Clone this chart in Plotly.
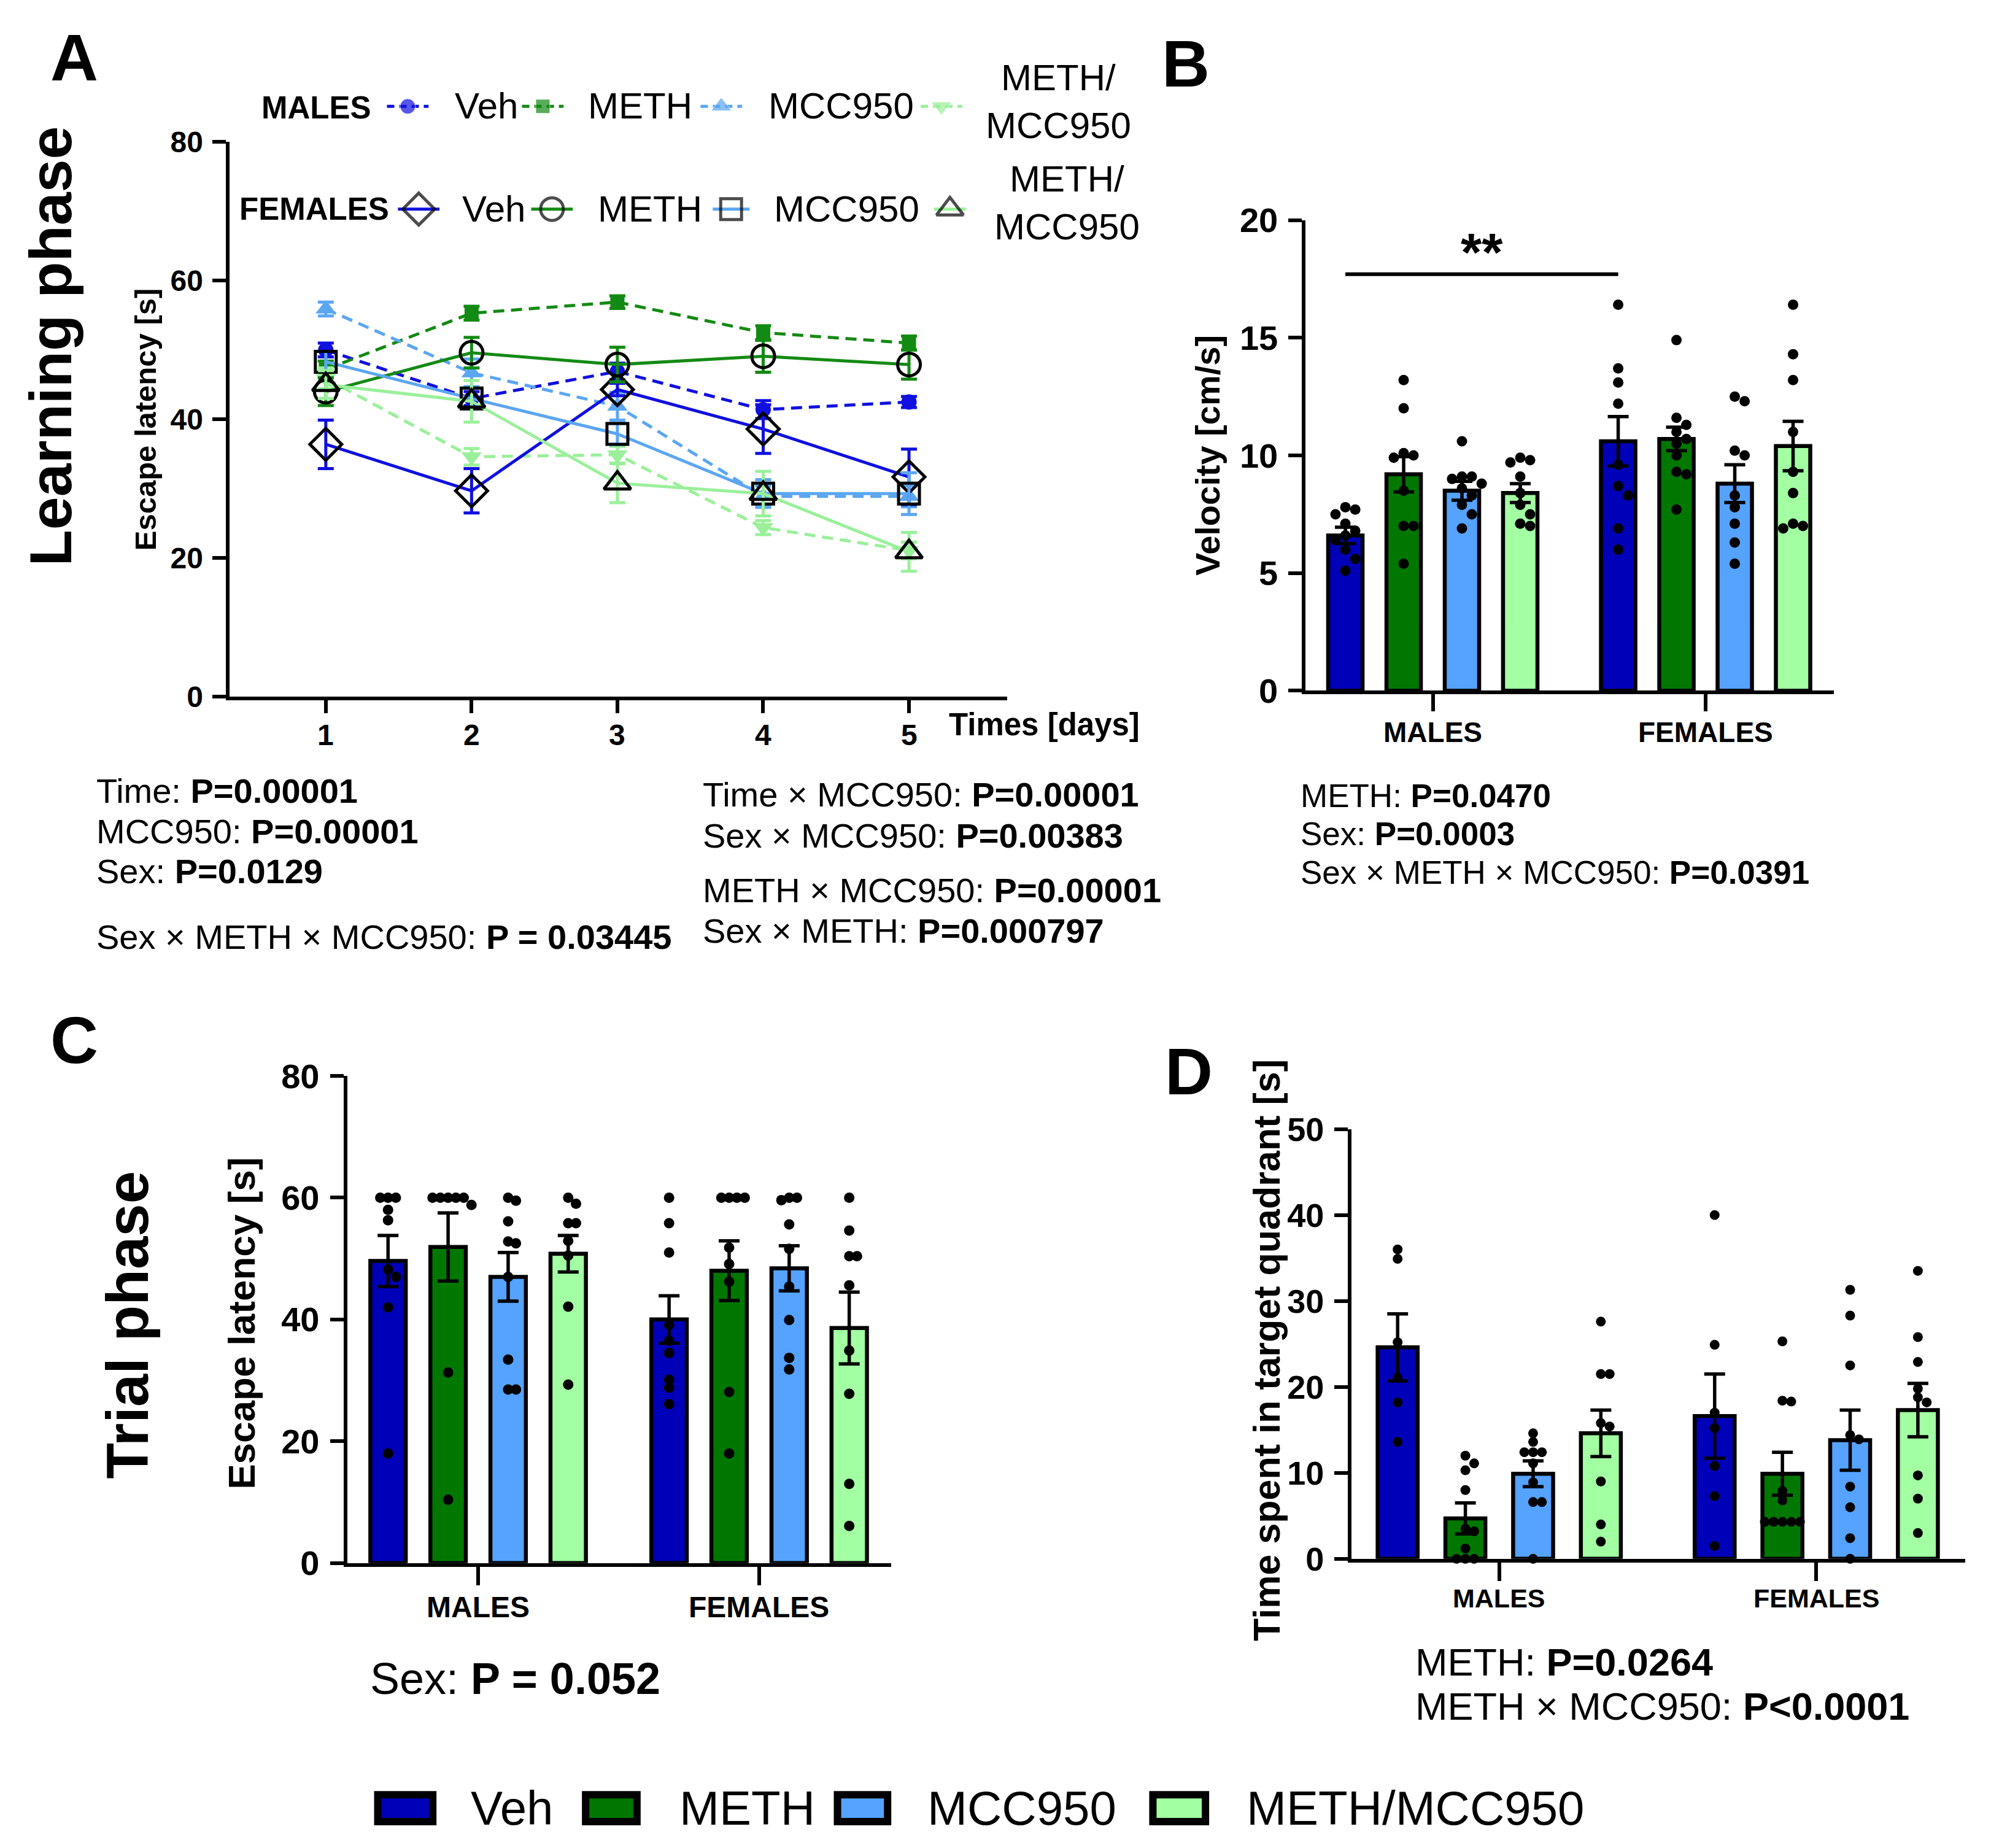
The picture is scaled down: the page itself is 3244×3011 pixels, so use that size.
import plotly.graph_objects as go

W, H = 3244, 3011
FONT = "Liberation Sans, Arial, sans-serif"

# ---- shared categories / colours
treatments = ["Veh", "METH", "MCC950", "METH/MCC950"]
sexes = ["MALES", "FEMALES"]
bar_colors = ["#0000b8", "#007800", "#55a2ff", "#a2ffa2"]
line_colors = ["#1010e0", "#138a13", "#5ba6f2", "#9af09a"]

# ---- panel A : learning phase (mean, SEM per day)
days = [1, 2, 3, 4, 5]
a_male_mean = [
    [50.0, 43.0, 46.9, 41.4, 42.5],
    [47.2, 55.3, 56.9, 52.5, 51.0],
    [55.9, 46.7, 41.9, 28.9, 28.9],
    [45.9, 34.6, 34.9, 24.4, 21.1],
]
a_male_sem = [
    [1.0, 1.0, 1.2, 1.3, 0.8],
    [1.2, 1.0, 0.9, 1.0, 1.0],
    [1.0, 2.0, 2.0, 1.5, 1.5],
    [1.5, 1.2, 1.2, 1.0, 1.2],
]
a_female_mean = [
    [36.4, 29.7, 44.3, 38.6, 31.7],
    [44.0, 49.6, 47.9, 49.1, 47.9],
    [48.3, 43.0, 37.9, 29.3, 29.3],
    [45.0, 42.6, 30.8, 29.3, 20.9],
]
a_female_sem = [
    [3.5, 3.2, 0.9, 3.5, 4.0],
    [2.0, 2.2, 2.5, 2.3, 2.1],
    [1.5, 1.5, 1.5, 2.0, 3.0],
    [2.0, 3.0, 2.8, 3.2, 2.8],
]

# ---- panel B : velocity
b_mean = [6.6, 9.2, 8.5, 8.4, 10.6, 10.7, 8.8, 10.4]
b_sem = [0.35, 0.75, 0.4, 0.4, 1.05, 0.5, 0.8, 1.05]
b_points = [
    [7.8, 7.7, 7.5, 7.1, 6.8, 6.6, 6.4, 6.0, 5.6, 5.1],
    [13.2, 12.0, 10.1, 10.0, 9.9, 8.5, 7.0, 7.0, 5.4],
    [10.6, 9.1, 9.1, 9.0, 8.8, 8.6, 8.3, 7.9, 7.5, 6.9],
    [9.9, 9.8, 9.7, 9.1, 8.4, 7.9, 7.5, 7.1, 7.0],
    [16.4, 13.7, 13.1, 12.2, 9.6, 8.7, 8.3, 6.9, 6.0],
    [14.9, 11.6, 11.3, 11.0, 10.7, 10.5, 10.0, 9.3, 9.2, 7.7],
    [12.5, 12.3, 10.2, 10.0, 8.3, 7.8, 7.1, 6.3, 5.4],
    [16.4, 14.3, 13.2, 11.0, 9.3, 8.4, 7.1, 7.0, 6.9],
]

# ---- panel C : trial phase escape latency
c_mean = [49.6, 51.9, 47.0, 50.8, 40.0, 48.0, 48.4, 38.6]
c_sem = [4.2, 5.6, 4.0, 3.0, 3.9, 4.9, 3.7, 5.9]
c_points = [
    [60, 60, 60, 58.0, 56.3, 48.2, 47.0, 42.0, 18.0],
    [60, 60, 60, 60, 60, 58.8, 31.3, 10.4],
    [60, 59.5, 56.1, 52.8, 52.5, 47.0, 33.4, 28.5, 28.5],
    [60, 59.0, 55.8, 55.8, 52.9, 50.5, 42.1, 29.3],
    [60, 55.8, 51.0, 39.1, 36.5, 34.5, 30.1, 28.8, 26.1],
    [60, 60, 60, 60, 51.8, 49.1, 46.2, 28.1, 18.0],
    [60, 60, 59.6, 55.6, 51.6, 45.4, 39.9, 33.7, 31.8],
    [60, 54.6, 50.4, 50.4, 45.6, 34.9, 27.8, 13.0, 6.1],
]

# ---- panel D : time in target quadrant
d_mean = [24.6, 4.7, 9.9, 14.6, 16.6, 9.9, 13.8, 17.3]
d_sem = [3.9, 1.8, 1.5, 2.7, 4.9, 2.5, 3.5, 3.1]
d_points = [
    [36.0, 34.9, 25.2, 21.1, 18.2, 13.6],
    [12.0, 11.1, 10.3, 8.0, 3.5, 3.2, 1.2, 0, 0, 0],
    [14.6, 13.6, 12.4, 12.4, 12.4, 11.1, 8.9, 6.6, 6.6, 0],
    [27.6, 21.5, 21.5, 15.8, 15.4, 9.0, 4.0, 2.0],
    [40.0, 24.9, 17.0, 15.2, 10.8, 7.3, 1.5],
    [25.3, 18.4, 18.3, 7.9, 6.8, 4.3, 4.3, 4.3, 4.3, 4.3],
    [31.3, 28.3, 22.5, 14.4, 13.9, 8.4, 6.0, 2.4, 0],
    [33.5, 25.8, 22.9, 19.8, 18.8, 18.2, 9.7, 7.0, 3.0],
]

stats_a_left = ["Time: <b>P=0.00001</b>", "MCC950: <b>P=0.00001</b>", "Sex: <b>P=0.0129</b>",
                "Sex × METH × MCC950: <b>P = 0.03445</b>"]
stats_a_right = ["Time × MCC950: <b>P=0.00001</b>", "Sex × MCC950: <b>P=0.00383</b>",
                 "METH × MCC950: <b>P=0.00001</b>", "Sex × METH: <b>P=0.000797</b>"]
stats_b = ["METH: <b>P=0.0470</b>", "Sex: <b>P=0.0003</b>", "Sex × METH × MCC950: <b>P=0.0391</b>"]
stats_c = ["Sex: <b>P = 0.052</b>"]
stats_d = ["METH: <b>P=0.0264</b>", "METH × MCC950: <b>P<0.0001</b>"]

# page offset (body margin) compensation: pixel -> paper
SC, OFF = 0.996, 8


def fx(p):
    return (p * SC - OFF) / W


def fy(p):
    return 1 - (p * SC - OFF) / H


# bar layout: 4 bars per sex, gap between the sexes
FEMALE_OFFSET = 4.68
BAR_RANGE = [-0.68, 3 + FEMALE_OFFSET + 0.70]
positions = [i + g * FEMALE_OFFSET for g in range(2) for i in range(4)]
group_centers = [1.5 + g * FEMALE_OFFSET for g in range(2)]


def swarm(values, center, x_px, y_px, diam, step=0.95):
    # simple beeswarm so overlapping dots spread sideways
    placed, xs = [], []
    for v in values:
        k = 0
        while True:
            off = ((k + 1) // 2) * (1 if k % 2 else -1) * diam * step
            yy = v * y_px
            if all((off - px) ** 2 + (yy - py) ** 2 >= (diam * step * 0.98) ** 2 for px, py in placed):
                break
            k += 1
        placed.append((off, yy))
        xs.append(center + off / x_px)
    return xs


fig = go.Figure()

# ---------------- panel A
sym_m = ["circle", "square", "triangle-up", "triangle-down"]
size_m = [25, 23, 29, 29]
sym_f = ["diamond-open", "circle-open", "square-open", "triangle-up-open"]
size_f = [40, 37, 34, 38]
for t in range(4):
    fig.add_trace(go.Scatter(
        x=days, y=a_male_mean[t], mode="lines+markers",
        line=dict(color=line_colors[t], width=5, dash="18px,11px"),
        marker=dict(symbol=sym_m[t], size=size_m[t], color=line_colors[t]),
        error_y=dict(type="data", array=a_male_sem[t], color=line_colors[t], thickness=5, width=13),
        xaxis="x", yaxis="y", showlegend=False, hoverinfo="skip"))
for t in range(4):
    fig.add_trace(go.Scatter(
        x=days, y=a_female_mean[t], mode="lines+markers",
        line=dict(color=line_colors[t], width=5),
        marker=dict(symbol=sym_f[t], size=size_f[t], color="black", line=dict(width=5, color="black")),
        error_y=dict(type="data", array=a_female_sem[t], color=line_colors[t], thickness=5, width=13),
        xaxis="x", yaxis="y", showlegend=False, hoverinfo="skip"))


# ---------------- bar panels B, C, D
def bar_panel(means, sems, points, xa, ya, x_px, y_px, diam, step):
    fig.add_trace(go.Bar(
        x=positions, y=means, width=0.59,
        marker=dict(color=bar_colors * 2, line=dict(color="black", width=6.5)),
        error_y=dict(type="data", array=sems, color="black", thickness=5.5, width=17),
        xaxis=xa, yaxis=ya, showlegend=False, hoverinfo="skip"))
    xs, ys = [], []
    for k, vals in enumerate(points):
        xs += swarm(vals, positions[k], x_px, y_px, diam, step)
        ys += vals
    fig.add_trace(go.Scatter(
        x=xs, y=ys, mode="markers", marker=dict(color="black", size=diam),
        xaxis=xa, yaxis=ya, showlegend=False, hoverinfo="skip", cliponaxis=False))


bar_panel(b_mean, b_sem, b_points, "x2", "y2", 95.5, 38.5, 17, 0.95)
bar_panel(c_mean, c_sem, c_points, "x3", "y3", 98.2, 10.0, 17, 0.75)
bar_panel(d_mean, d_sem, d_points, "x4", "y4", 111.0, 14.2, 16, 0.9)

# ---------------- legend samples of panel A (drawn on a pixel overlay axis)
leg_m = [(667, 34), (888, 34), (1180, 34), (1540, 34)]
leg_f = [(685, 34), (903, 34), (1196, 30), (1554, 26)]
for t in range(4):
    xc, half = leg_m[t]
    fig.add_trace(go.Scatter(
        x=[xc - half, xc, xc + half], y=[174] * 3, mode="lines+markers",
        line=dict(color=line_colors[t], width=5, dash="12px,8px"),
        marker=dict(symbol=sym_m[t], size=[0, size_m[t], 0], color=line_colors[t]),
        xaxis="x5", yaxis="y5", showlegend=False, hoverinfo="skip"))
    xc, half = leg_f[t]
    fig.add_trace(go.Scatter(
        x=[xc - half, xc, xc + half], y=[342] * 3, mode="lines+markers",
        line=dict(color=line_colors[t], width=5),
        marker=dict(symbol=sym_f[t], size=[0, size_f[t], 0], color="black", line=dict(width=5, color="black")),
        xaxis="x5", yaxis="y5", showlegend=False, hoverinfo="skip"))

# ---------------- axes
axis_common = dict(showline=True, linewidth=6, linecolor="black", ticks="outside", tickwidth=6,
                   tickcolor="black", showgrid=False, zeroline=False, mirror=False, automargin=False)
ytick_font = lambda s: dict(size=s, weight="bold", family=FONT)

fig.update_layout(
    width=W, height=H, margin=dict(l=0, r=0, t=0, b=0, pad=0, autoexpand=False),
    paper_bgcolor="white", plot_bgcolor="rgba(0,0,0,0)",
    font=dict(family=FONT, color="black"),
    xaxis=dict(domain=[fx(376), fx(1648)], range=[0.342, 5.675], tickvals=days, anchor="y",
               ticklen=21, showticklabels=False, **axis_common),
    yaxis=dict(domain=[fy(1140), fy(232)], range=[0, 80], dtick=20, anchor="x",
               ticklen=22, ticklabelstandoff=6, tickfont=ytick_font(48), **axis_common),
    xaxis2=dict(domain=[fx(2136), fx(3000)], range=BAR_RANGE, tickvals=group_centers, anchor="y2",
                ticklen=28, showticklabels=False, **axis_common),
    yaxis2=dict(domain=[fy(1130), fy(360)], range=[0, 20], dtick=5, anchor="x2",
                ticklen=22, ticklabelstandoff=6, tickfont=ytick_font(56), **axis_common),
    xaxis3=dict(domain=[fx(568), fx(1458)], range=BAR_RANGE, tickvals=group_centers, anchor="y3",
                ticklen=30, showticklabels=False, **axis_common),
    yaxis3=dict(domain=[fy(2557), fy(1760)], range=[0, 80], dtick=20, anchor="x3",
                ticklen=22, ticklabelstandoff=6, tickfont=ytick_font(56), **axis_common),
    xaxis4=dict(domain=[fx(2211), fx(3215)], range=BAR_RANGE, tickvals=group_centers, anchor="y4",
                ticklen=30, showticklabels=False, **axis_common),
    yaxis4=dict(domain=[fy(2550), fy(1847)], range=[0, 50], dtick=10, anchor="x4",
                ticklen=22, ticklabelstandoff=6, tickfont=ytick_font(54), **axis_common),
    xaxis5=dict(domain=[0, 1], range=[OFF / SC, (W + OFF) / SC], visible=False, anchor="y5",
                automargin=False),
    yaxis5=dict(domain=[0, 1], range=[(H + OFF) / SC, OFF / SC], visible=False, anchor="x5",
                automargin=False),
)

# ---------------- text
ann = []


def text(x, y, s, size, bold=False, angle=0, anchor="center", xref="paper"):
    ann.append(dict(x=fx(x) if xref == "paper" else x, y=fy(y), xref=xref, yref="paper",
                    text=f"<b>{s}</b>" if bold else s,
                    showarrow=False, textangle=angle, xanchor=anchor, yanchor="middle",
                    font=dict(size=size, family=FONT, color="black")))


# category labels under the x axes
for d in days:
    text(d, 1202, str(d), 48, bold=True, xref="x")
for g, s in enumerate(sexes):
    text(group_centers[g], 1198, s, 46, bold=True, xref="x2")
    text(group_centers[g], 2629, s, 48, bold=True, xref="x3")
    text(group_centers[g], 2614, s, 43, bold=True, xref="x4")

for lab, x, y in [("A", 121, 94), ("B", 1940, 104), ("C", 121, 1701), ("D", 1945, 1753)]:
    text(x, y, lab, 108, bold=True)
text(83, 566, "Learning phase", 97, bold=True, angle=-90)
text(208, 2167, "Trial phase", 96, bold=True, angle=-90)

text(238, 686, "Escape latency [s]", 49, bold=True, angle=-90)
text(1708, 1185, "Times [days]", 51, bold=True)
text(1975, 745, "Velocity [cm/s]", 56, bold=True, angle=-90)
text(395, 2165, "Escape latency [s]", 62, bold=True, angle=-90)
text(2072, 2209, "Time spent in target quadrant [s]", 61, bold=True, angle=-90)

# legend labels of panel A
text(518, 176, "MALES", 51, bold=True)
text(514, 342, "FEMALES", 51, bold=True)
for t, (xm, xf) in enumerate(zip([742, 960, 1255, 1610], [754, 976, 1264, 1624])):
    lbl = treatments[t].replace("/", "/<br>") if t == 3 else treatments[t]
    y_m, y_f = (166, 332) if t == 3 else (173, 342)
    text(xm, y_m, lbl, 60, anchor="left")
    text(xf, y_f, lbl, 60, anchor="left")

# statistics
for s, y in zip(stats_a_left, [1294, 1360, 1425, 1533]):
    text(156, y, s, 56, anchor="left")
for s, y in zip(stats_a_right, [1300, 1367, 1456, 1523]):
    text(1148, y, s, 56, anchor="left")
for s, y in zip(stats_b, [1302, 1364, 1427]):
    text(2126, y, s, 53, anchor="left")
text(603, 2746, stats_c[0], 72, anchor="left")
for s, y in zip(stats_d, [2719, 2791]):
    text(2313, y, s, 63, anchor="left")

# significance bar in B
fig.add_shape(type="line", xref="x2", yref="y2", x0=positions[0], x1=positions[4], y0=17.7, y1=17.7,
              line=dict(color="black", width=6))
ann.append(dict(x=(positions[0] + positions[4]) / 2, y=17.3, xref="x2", yref="y2", text="<b>**</b>",
                showarrow=False, yanchor="bottom", font=dict(size=88, family=FONT, color="black")))

# bottom legend
box_x = [(612, 714), (952, 1048), (1364, 1458), (1880, 1978)]
txt_x = [768, 1109, 1515, 2037]
for t in range(4):
    x0, x1 = box_x[t]
    fig.add_shape(type="rect", xref="paper", yref="paper", x0=fx(x0 + 6), x1=fx(x1 - 6),
                  y0=fy(2930 + 6), y1=fy(2986 - 6), fillcolor=bar_colors[t],
                  line=dict(color="black", width=12))
    text(txt_x[t], 2958, treatments[t], 78, anchor="left")

fig.update_layout(annotations=ann)
fig.write_html("out.html")
